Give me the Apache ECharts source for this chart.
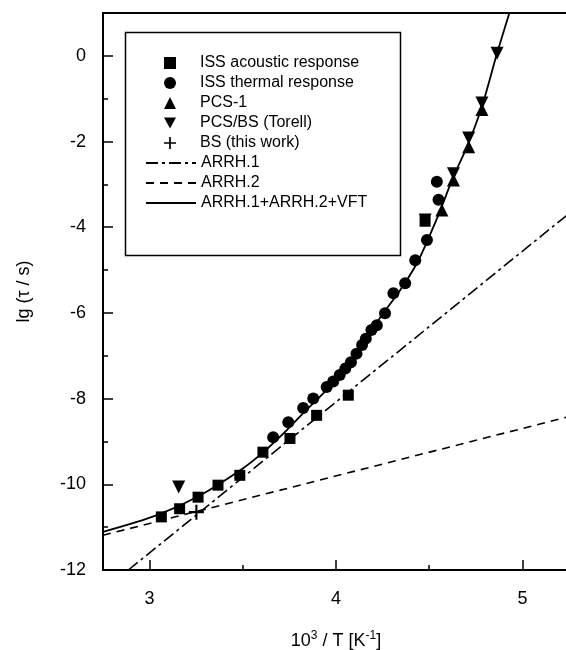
<!DOCTYPE html>
<html>
<head>
<meta charset="utf-8">
<script src="https://cdn.jsdelivr.net/npm/echarts@6/dist/echarts.min.js"></script>
<style>
  html, body { margin: 0; padding: 0; background: #fff; }
  #chart { width: 566px; height: 650px; }
</style>
</head>
<body>
<div id="chart"></div>
<script>
// x = 10^3 / T [1/K], y = lg(tau / s)
const xTicks = [3, 4, 5]
const xMinorTicks = [3.5, 4.5]

const issAcoustic = [
  [3.063, -10.76], [3.161, -10.57], [3.26, -10.30], [3.367, -10.02], [3.484, -9.79],
  [3.608, -9.25], [3.753, -8.93], [3.896, -8.39], [4.066, -7.92], [4.478, -3.86]
]
const issThermal = [
  [3.663, -8.9], [3.744, -8.55], [3.824, -8.22], [3.878, -8.0], [3.95, -7.73],
  [3.985, -7.6], [4.02, -7.45], [4.05, -7.3], [4.08, -7.15], [4.11, -6.95],
  [4.14, -6.75], [4.16, -6.6], [4.19, -6.4], [4.219, -6.29], [4.263, -6.01],
  [4.308, -5.54], [4.371, -5.31], [4.425, -4.77], [4.488, -4.30], [4.55, -3.36],
  [4.541, -2.94]
]
const pcs1 = [[4.568, -3.6], [4.63, -2.9], [4.712, -2.12], [4.783, -1.25]]
const pcsTorell = [[3.156, -10.06], [4.478, -3.83], [4.63, -2.75], [4.712, -1.92], [4.783, -1.1], [4.864, 0.06]]
const bsThisWork = [[3.251, -10.65]]

const arrh1 = [[2.886, -12], [5.25, -3.68]]
const arrh2 = [[2.75, -11.19], [5.25, -8.42]]
const fitVft = [
  [2.75, -11.11], [3.04, -10.72], [3.27, -10.26], [3.50, -9.63], [3.61, -9.25],
  [3.735, -8.74], [3.84, -8.27], [3.985, -7.64], [4.1, -7.0], [4.24, -6.09],
  [4.344, -5.47], [4.434, -4.84], [4.50, -4.22], [4.56, -3.60], [4.63, -2.82],
  [4.703, -2.12], [4.783, -1.18], [4.864, 0.06], [4.93, 1.0], [4.95, 1.3]
]

const pointNames = ['ISS acoustic response', 'ISS thermal response', 'PCS-1', 'PCS/BS (Torell)', 'BS (this work)']
const lineNames = ['ARRH.1', 'ARRH.2', 'ARRH.1+ARRH.2+VFT']

const FONT = '"Liberation Sans", Arial, sans-serif'
const plusPath = 'path://M6,0H8V6H14V8H8V14H6V8H0V6H6Z'
const downTriPath = 'path://M0,0L10,0L5,9Z'

const chart = echarts.init(document.getElementById('chart'), null, { renderer: 'canvas' })

const legendText = { fontFamily: FONT, fontSize: 16, color: '#000' }
const solidBlack = { color: '#000', opacity: 1 }

chart.setOption({
  animation: false,
  backgroundColor: '#fff',
  textStyle: { fontFamily: FONT, color: '#000' },
  grid: {
    left: 103, top: 13, right: -3, bottom: 80,
    containLabel: false, outerBoundsMode: 'none',
    show: true, borderColor: '#000', borderWidth: 2
  },
  graphic: [{
    type: 'rect',
    left: 123, top: 30,
    shape: { width: 275, height: 223 },
    style: { fill: 'none', stroke: '#000', lineWidth: 1.5 },
    z: 10
  }],
  legend: [
    {
      orient: 'vertical',
      left: 164, top: 55, padding: 0,
      itemWidth: 12, itemHeight: 12, itemGap: 4,
      textStyle: Object.assign({ padding: [0, 0, 0, 19] }, legendText),
      data: pointNames
    },
    {
      orient: 'vertical',
      left: 145, top: 155, padding: 0,
      itemWidth: 50, itemHeight: 14, itemGap: 4,
      textStyle: legendText,
      data: lineNames.map(n => ({ name: n, itemStyle: { color: 'rgba(0,0,0,0)', opacity: 0 } }))
    }
  ],
  xAxis: [
    {
      type: 'value', min: 2.75, max: 5.25,
      name: '10{sup|3} / T [K{sup|-1}]',
      nameLocation: 'middle',
      nameGap: 60,
      nameTextStyle: {
        fontFamily: FONT, fontSize: 18, color: '#000',
        rich: { sup: { fontFamily: FONT, fontSize: 12, verticalAlign: 'top', padding: [0, 0, 10, 0] } }
      },
      axisLine: { onZero: false, lineStyle: { color: '#000', width: 2 } },
      axisTick: { inside: true, length: 10, lineStyle: { color: '#000', width: 1.5 }, customValues: xTicks },
      axisLabel: { fontFamily: FONT, fontSize: 18, color: '#000', margin: 20, customValues: xTicks },
      splitLine: { show: false }
    },
    {
      type: 'value', min: 2.75, max: 5.25,
      position: 'bottom',
      axisLine: { show: false, onZero: false },
      axisTick: { inside: true, length: 5, lineStyle: { color: '#000', width: 1.5 }, customValues: xMinorTicks },
      axisLabel: { show: false, customValues: xMinorTicks },
      splitLine: { show: false }
    }
  ],
  yAxis: {
    type: 'value',
    min: -12,
    max: 1,
    interval: 2,
    name: 'lg (τ / s)',
    nameLocation: 'middle',
    nameGap: 70,
    nameTextStyle: { fontFamily: FONT, fontSize: 18, color: '#000' },
    axisLine: { onZero: false, lineStyle: { color: '#000', width: 2 } },
    axisTick: { inside: true, length: 10, lineStyle: { color: '#000', width: 1.5 } },
    minorTick: { show: true, splitNumber: 2, length: 5, lineStyle: { color: '#000', width: 1.5 } },
    axisLabel: { fontFamily: FONT, fontSize: 18, color: '#000', margin: 17, showMaxLabel: false },
    splitLine: { show: false }
  },
  series: [
    {
      name: 'ISS acoustic response', type: 'scatter', data: issAcoustic,
      symbol: 'rect', symbolSize: 11, itemStyle: solidBlack, z: 5
    },
    {
      name: 'ISS thermal response', type: 'scatter', data: issThermal,
      symbol: 'circle', symbolSize: 12, itemStyle: solidBlack, z: 5
    },
    {
      name: 'PCS-1', type: 'scatter', data: pcs1,
      symbol: 'triangle', symbolSize: 13, itemStyle: solidBlack, z: 5
    },
    {
      name: 'PCS/BS (Torell)', type: 'scatter', data: pcsTorell,
      symbol: downTriPath, symbolSize: 13, itemStyle: solidBlack, z: 5
    },
    {
      name: 'BS (this work)', type: 'scatter', data: bsThisWork,
      symbol: plusPath, symbolSize: 15, itemStyle: solidBlack, z: 5
    },
    {
      name: 'ARRH.1', type: 'line', data: arrh1, symbol: 'none',
      lineStyle: { color: '#000', width: 1.6, type: [12, 4, 3, 4] }, itemStyle: { color: '#000' }
    },
    {
      name: 'ARRH.2', type: 'line', data: arrh2, symbol: 'none',
      lineStyle: { color: '#000', width: 1.6, type: [8, 6] }, itemStyle: { color: '#000' }
    },
    {
      name: 'ARRH.1+ARRH.2+VFT', type: 'line', data: fitVft, symbol: 'none', smooth: 0.3,
      lineStyle: { color: '#000', width: 1.8 }, itemStyle: { color: '#000' }
    }
  ]
})
</script>
</body>
</html>
